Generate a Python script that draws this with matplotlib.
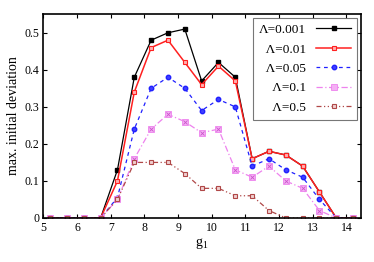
import matplotlib.pyplot as plt

# g1 grid and max. initial deviation per Lambda
g1 = [5.2, 5.7, 6.2, 6.7, 7.2, 7.7, 8.2, 8.7, 9.2, 9.7, 10.2, 10.7,
      11.2, 11.7, 12.2, 12.7, 13.2, 13.7, 14.2]
dev_0001 = [0, 0, 0, 0, 0.13, 0.38, 0.48, 0.50, 0.51, 0.37, 0.42, 0.38,
            0.16, 0.18, 0.17, 0.14, 0.07, 0, 0]
dev_001 = [0, 0, 0, 0, 0.10, 0.34, 0.46, 0.48, 0.42, 0.36, 0.41, 0.37,
           0.16, 0.18, 0.17, 0.14, 0.07, 0, 0]
dev_005 = [0, 0, 0, 0, 0.055, 0.24, 0.35, 0.38, 0.35, 0.29, 0.32, 0.30,
           0.14, 0.16, 0.13, 0.11, 0.05, 0, 0]
dev_01 = [0, 0, 0, 0, 0.05, 0.16, 0.24, 0.28, 0.26, 0.23, 0.24, 0.13,
          0.11, 0.14, 0.10, 0.08, 0.02, 0, 0]
dev_05 = [0, 0, 0, 0, 0.05, 0.15, 0.15, 0.15, 0.12, 0.08, 0.08, 0.06,
          0.06, 0.02, 0, 0, 0, 0, 0]

plt.rcParams['font.family'] = ['Liberation Serif', 'DejaVu Serif']
plt.rcParams['font.size'] = 8.5
plt.rcParams['mathtext.fontset'] = 'stix'

fig = plt.figure(figsize=(3.74, 2.62), dpi=100)
ax = fig.add_axes([0.116, 0.168, 0.849, 0.779])

# figure space pads the short labels so they line up on the right
fs = '\u2007'
ms = 3.2
ax.plot(g1, dev_0001, color='black', lw=0.9, marker='s', ms=ms - 0.6,
        mfc='black', mec='black', label='Λ=0.001')
ax.plot(g1, dev_001, color='#ff2020', lw=1.1, marker='s', ms=ms,
        mfc='#ffb0b0', mec='#ff2020', mew=0.8, label=fs + 'Λ=0.01')
ax.plot(g1, dev_005, color='#2020ff', lw=0.9, ls=(0, (3, 3)), marker='o',
        ms=ms, mfc='#4040ff', mec='#2020ff', label=fs + 'Λ=0.05')
ax.plot(g1, dev_01, color='#ee82ee', lw=0.9, ls=(0, (5, 2, 1, 2)), marker='s',
        ms=ms + 0.6, mfc='#f4b0f4', mec='#ee82ee', mew=0.6,
        label=fs * 2 + 'Λ=0.1')
ax.plot(g1, dev_01, color='#cc55cc', lw=0, marker='x', ms=ms, mew=0.6)
ax.plot(g1, dev_05, color='#b04848', lw=0.9, ls=(0, (4, 2, 1, 2, 1, 2)),
        marker='s', ms=ms, mfc='#f0d0d0', mec='#b04848', mew=0.8,
        label=fs * 2 + 'Λ=0.5')

ax.set_xlim(5, 14.43)
ax.set_ylim(0, 0.551)
ax.set_xticks(range(5, 15))
ax.set_yticks([0, 0.1, 0.2, 0.3, 0.4, 0.5])
ax.set_yticklabels(['0', '0.1', '0.2', '0.3', '0.4', '0.5'])
ax.tick_params(direction='in', top=True, right=True, length=3, width=0.8,
               pad=3)
for s in ax.spines.values():
    s.set_linewidth(1.2)

ax.set_xlabel('$\\mathregular{g_1}$', fontsize=10, labelpad=1)
ax.set_ylabel('max. initial deviation', fontsize=10, labelpad=3)

leg = ax.legend(loc='upper right', markerfirst=False, fontsize=9.5,
                frameon=True, fancybox=False, handlelength=2.65,
                borderaxespad=0.3, labelspacing=0.55, handletextpad=0.75,
                borderpad=0.45)
leg.get_frame().set_edgecolor('#555555')
leg.get_frame().set_linewidth(0.8)

fig.savefig('out.png', dpi=100)
